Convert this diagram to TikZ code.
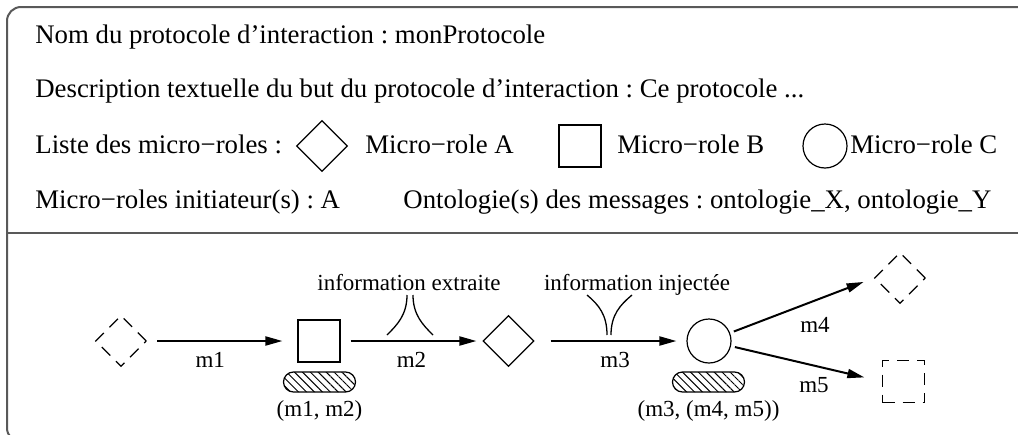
\documentclass[tikz,border=0pt]{standalone}
\usepackage{fontspec}
\setmainfont{Liberation Serif}
\usetikzlibrary{shapes.geometric, arrows.meta, positioning, patterns.meta}

\begin{document}
\frenchspacing
\begin{tikzpicture}[
  x=0.5pt, y=-0.5pt,
  font=\fontsize{11.5}{13}\selectfont,
  % Node styles
  txt/.style={anchor=base west, inner sep=0pt, font=\fontsize{13.4}{15}\selectfont},
  lbl/.style={inner sep=1pt},
  losange/.style={draw, diamond, minimum width=25.5pt, minimum height=25.5pt,
                  inner sep=0pt, line width=0.6pt},
  carre/.style={draw, rectangle, minimum width=21pt, minimum height=21pt,
                inner sep=0pt, line width=0.6pt},
  rond/.style={draw, circle, minimum size=22pt, inner sep=0pt, line width=0.6pt},
  absent/.style={dash pattern=on 6pt off 4pt},
  hachure/.style={draw, rounded corners=5pt, minimum width=36pt, minimum height=10pt,
                  inner sep=0pt, line width=0.6pt,
                  pattern={Lines[angle=-45, distance=2.8pt, line width=0.5pt]}},
  % Arrow styles
  arr/.style={-{Triangle[length=8.5pt, width=4.5pt]}, line width=1pt},
  iface/.style={line width=0.65pt},
  cadre/.style={line width=1pt, black!65},
]

  \useasboundingbox (0,0) rectangle (1018,434);
  \clip (0,0) rectangle (1018,434);

  % ── Frame ──
  \draw[cadre, rounded corners=7pt] (7,7) rectangle (1040,442);
  \draw[cadre] (7,233) -- (1040,233);

  % ── Header: protocol description ──
  \node[txt] (nom) at (35,43) {Nom du protocole d’interaction : monProtocole};
  \node[txt] (desc) at (35,97) {Description textuelle du but du protocole d’interaction : Ce protocole ...};
  \node[txt] (liste) at (35,153) {Liste des micro−roles :};
  \node[losange] (legA) at (322,146) {};
  \node[txt] (txtA) at (365,153) {Micro−role A};
  \node[carre] (legB) at (580,146) {};
  \node[txt] (txtB) at (617,153) {Micro−role B};
  \node[rond] (legC) at (825,146) {};
  \node[txt] (txtC) at (850,153) {Micro−role C};
  \node[txt] (init) at (35,208) {Micro−roles initiateur(s) : A};
  \node[txt] (onto) at (403,208) {Ontologie(s) des messages : ontologie\_X, ontologie\_Y};

  % ── Body: micro-roles ──
  \node[losange, absent] (debut) at (121,341) {};
  \node[carre] (roleB) at (319,341) {};
  \node[hachure] (etatB) at (319.5,382) {};
  \node[lbl, below=3pt of etatB] (seqB) {(m1, m2)};
  \node[losange] (roleA) at (508.5,341) {};
  \node[rond] (roleC) at (709,341) {};
  \node[hachure] (etatC) at (708.5,382) {};
  \node[lbl, below=3pt of etatC] (seqC) {(m3, (m4, m5))};
  \node[losange, absent] (finA) at (900,278) {};
  \node[carre, absent] (finB) at (903.5,381.5) {};

  % ── Messages ──
  \draw[arr, shorten <=5pt, shorten >=7.5pt] (debut) -- node[lbl, pos=0.42, below=4pt] {m1} (roleB);
  \draw[arr, shorten <=5pt, shorten >=3pt] (roleB) -- node[lbl, pos=0.5, below=4pt] {m2} (roleA);
  \draw[arr, shorten <=8pt, shorten >=5pt] (roleA) -- node[lbl, pos=0.53, below=4pt] {m3} (roleC);
  \draw[arr, shorten <=2pt, shorten >=5.5pt] (roleC) -- node[lbl, pos=0.59, below=7pt] {m4} (finA.west);
  \draw[arr, shorten <=2pt, shorten >=9pt] (roleC) -- node[lbl, pos=0.55, below=4.5pt] {m5} (finB.west);

  % ── Information extraite / injectée ──
  \coordinate (ext) at (410,341);
  \coordinate (inj) at (609,341);
  \draw[iface] ([shift={(-23,-6)}]ext) .. controls +(10,-10) and +(0,20) .. ([shift={(-3,-46)}]ext);
  \draw[iface] ([shift={(23,-6)}]ext) .. controls +(-10,-10) and +(0,20) .. ([shift={(3,-46)}]ext);
  \draw[iface] ([shift={(-22,-46)}]inj) .. controls +(12,10) and +(0,-20) .. ([shift={(-2,-6)}]inj);
  \draw[iface] ([shift={(23,-46)}]inj) .. controls +(-12,10) and +(0,-20) .. ([shift={(2,-6)}]inj);
  \node[lbl, anchor=base] (lblExt) at (409,290) {information extraite};
  \node[lbl, anchor=base] (lblInj) at (637,290) {information injectée};

\end{tikzpicture}
\end{document}
